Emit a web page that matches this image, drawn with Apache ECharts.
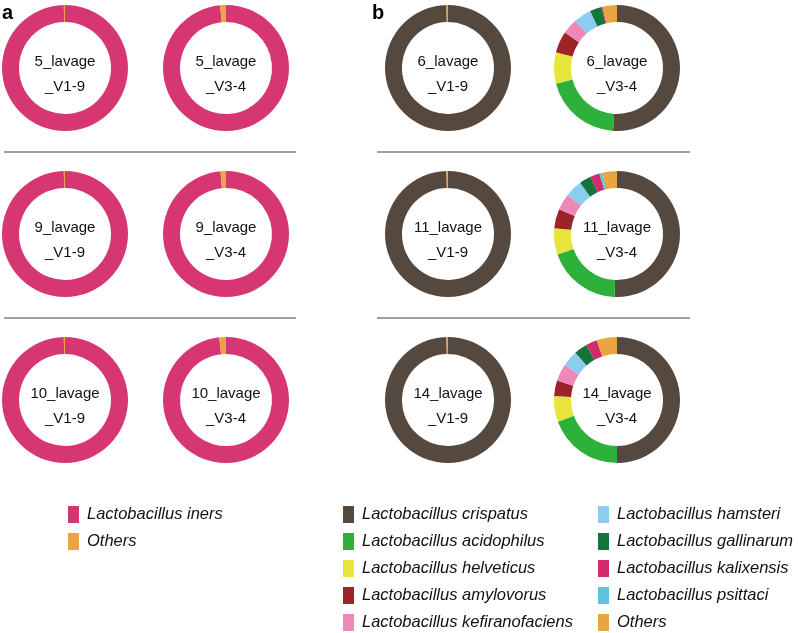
<!DOCTYPE html>
<html lang="en">
<head>
<meta charset="UTF-8">
<title>Lavage donuts</title>
<script src="https://cdn.jsdelivr.net/npm/echarts@6/dist/echarts.min.js"></script>
<style>
  * { margin: 0; padding: 0; }
  html, body, #main { width: 798px; height: 633px; background: #fff; }
</style>
</head>
<body>
<div id="main"></div>
<script>
// species and colours
const speciesA = ['Lactobacillus iners', 'Others'];
const coloursA = ['#d63672', '#e9a640'];

const speciesB = [
  'Lactobacillus crispatus', 'Lactobacillus acidophilus', 'Lactobacillus helveticus',
  'Lactobacillus amylovorus', 'Lactobacillus kefiranofaciens', 'Lactobacillus hamsteri',
  'Lactobacillus gallinarum', 'Lactobacillus kalixensis', 'Lactobacillus psittaci', 'Others'
];
const coloursB = ['#55483f', '#2db13b', '#e6e43d', '#9c2327', '#ee88b6',
  '#8acdf0', '#14743b', '#d22a6c', '#5fc3df', '#e9a640'];

// panel a samples (row by row, V1-9 then V3-4)
const samplesA = ['5_lavage\n_V1-9', '5_lavage\n_V3-4', '9_lavage\n_V1-9',
  '9_lavage\n_V3-4', '10_lavage\n_V1-9', '10_lavage\n_V3-4'];
const valuesA = [
  [99.7, 0.3], [98.5, 1.5],
  [99.7, 0.3], [98.6, 1.4],
  [99.7, 0.3], [98.3, 1.7]
];

// panel b samples
const samplesB = ['6_lavage\n_V1-9', '6_lavage\n_V3-4', '11_lavage\n_V1-9',
  '11_lavage\n_V3-4', '14_lavage\n_V1-9', '14_lavage\n_V3-4'];
const valuesB = [
  [99.6, 0, 0, 0, 0, 0, 0, 0, 0, 0.4],
  [51, 20, 8, 5.5, 4, 4.5, 3, 0.3, 0, 3.7],
  [99.6, 0, 0, 0, 0, 0, 0, 0, 0, 0.4],
  [50.5, 19, 6.7, 5, 4.2, 4.4, 3, 2.4, 0.8, 3.7],
  [99.6, 0, 0, 0, 0, 0, 0, 0, 0, 0.4],
  [50, 19.4, 6.6, 4, 4.4, 4.1, 3.4, 2.9, 0, 5.2]
];

const chart = echarts.init(document.getElementById('main'));

const colX = { a: [65, 226], b: [448, 617] };
const rowY = [68, 234, 400];
const rIn = 46, rOut = 63;

const series = [];
const graphic = [];

function addPanel(key, samples, values, names, colours) {
  samples.forEach((s, i) => {
    const cx = colX[key][i % 2];
    const cy = rowY[Math.floor(i / 2)];
    series.push({
      type: 'pie',
      name: s,
      center: [cx, cy],
      radius: [rIn, rOut],
      startAngle: 90,
      clockwise: true,
      label: { show: false },
      labelLine: { show: false },
      emphasis: { scale: false },
      itemStyle: { borderWidth: 0 },
      data: names.map((n, j) => ({ name: n, value: values[i][j], itemStyle: { color: colours[j] } }))
    });
    graphic.push({
      type: 'text',
      x: cx, y: cy + 6,
      style: {
        text: s, fill: '#111', fontSize: 15, fontFamily: 'Liberation Sans, Arial, sans-serif',
        lineHeight: 25, align: 'center', verticalAlign: 'middle',
        textAlign: 'center', textVerticalAlign: 'middle'
      }
    });
  });
}
addPanel('a', samplesA, valuesA, speciesA, coloursA);
addPanel('b', samplesB, valuesB, speciesB, coloursB);

// panel letters
[['a', 2], ['b', 372]].forEach(([t, x]) => {
  graphic.push({
    type: 'text', x: x, y: 3,
    style: { text: t, fill: '#000', fontSize: 20, fontWeight: 'bold', fontFamily: 'Liberation Sans, Arial, sans-serif' }
  });
});

// divider lines
[[4, 296], [377, 690]].forEach(([x1, x2]) => {
  [152, 318].forEach(y => {
    graphic.push({
      type: 'line', shape: { x1: x1, y1: y, x2: x2, y2: y },
      style: { stroke: '#808080', lineWidth: 1.5 }
    });
  });
});

const legendBase = {
  orient: 'vertical',
  icon: 'rect',
  itemWidth: 11,
  itemHeight: 17,
  itemGap: 10,
  top: 506,
  height: 140,
  padding: 0,
  selectedMode: false,
  textStyle: { fontSize: 16.5, lineHeight: 17, fontStyle: 'italic', color: '#111', padding: [0, 0, 0, 3],
    fontFamily: 'Liberation Sans, Arial, sans-serif' }
};

chart.setOption({
  animation: false,
  legend: [
    Object.assign({}, legendBase, { left: 68, data: speciesA }),
    Object.assign({}, legendBase, { left: 343, data: speciesB.slice(0, 5) }),
    Object.assign({}, legendBase, { left: 598, data: speciesB.slice(5) })
  ],
  series: series,
  graphic: graphic
});
</script>
</body>
</html>
